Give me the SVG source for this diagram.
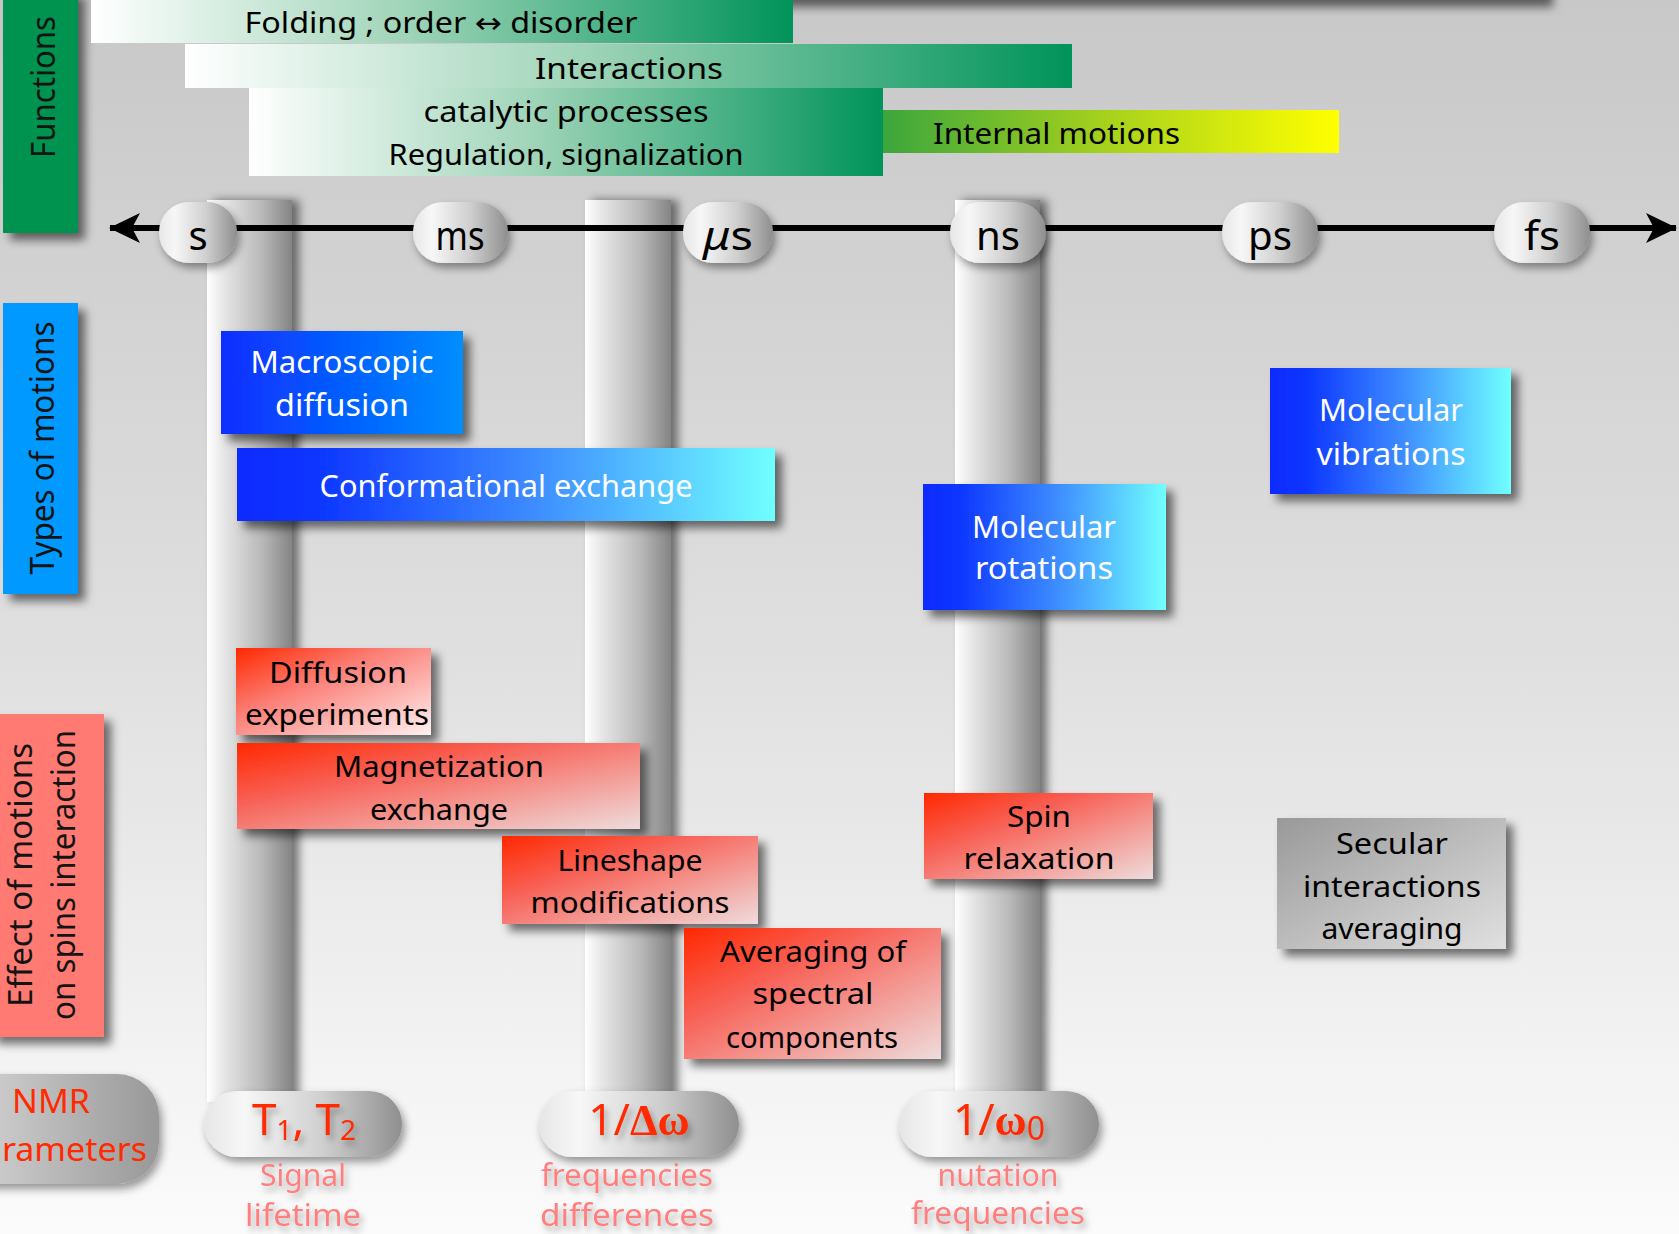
<svg xmlns="http://www.w3.org/2000/svg" width="1679" height="1234" viewBox="0 0 1679 1234">
<defs>
  <linearGradient id="bg" x1="0" y1="0" x2="0" y2="1">
    <stop offset="0" stop-color="#c8c8c8"/>
    <stop offset="0.5" stop-color="#dedede"/>
    <stop offset="1" stop-color="#fbfbfb"/>
  </linearGradient>
  <linearGradient id="green" x1="0" y1="0" x2="1" y2="0">
    <stop offset="0" stop-color="#ffffff"/>
    <stop offset="0.45" stop-color="#9fd4b8"/>
    <stop offset="1" stop-color="#00935a"/>
  </linearGradient>
  <linearGradient id="yellow" x1="0" y1="0" x2="1" y2="0">
    <stop offset="0" stop-color="#3ca63c"/>
    <stop offset="0.5" stop-color="#a8d21c"/>
    <stop offset="1" stop-color="#ffff00"/>
  </linearGradient>
  <linearGradient id="blue1" x1="0" y1="0" x2="1" y2="0">
    <stop offset="0" stop-color="#0a2eff"/>
    <stop offset="1" stop-color="#008eff"/>
  </linearGradient>
  <linearGradient id="blue2" x1="0" y1="0" x2="1" y2="0">
    <stop offset="0" stop-color="#0a2aff"/>
    <stop offset="0.15" stop-color="#0d36ff"/>
    <stop offset="0.55" stop-color="#3d8cff"/>
    <stop offset="1" stop-color="#70ffff"/>
  </linearGradient>
  <linearGradient id="red" x1="0" y1="0" x2="1" y2="1">
    <stop offset="0" stop-color="#ff2800"/>
    <stop offset="0.35" stop-color="#f86055"/>
    <stop offset="1" stop-color="#eedcdc"/>
  </linearGradient>
  <linearGradient id="redlight" x1="0" y1="0" x2="1" y2="1">
    <stop offset="0" stop-color="#ff2800"/>
    <stop offset="0.4" stop-color="#fb8078"/>
    <stop offset="1" stop-color="#fff0f0"/>
  </linearGradient>
  <linearGradient id="gray" x1="0" y1="0" x2="1" y2="1">
    <stop offset="0" stop-color="#999999"/>
    <stop offset="1" stop-color="#e0e0e0"/>
  </linearGradient>
  <linearGradient id="col" x1="0" y1="0" x2="1" y2="0">
    <stop offset="0" stop-color="#ffffff"/>
    <stop offset="0.2" stop-color="#e6e6e6"/>
    <stop offset="0.65" stop-color="#b8b8b8"/>
    <stop offset="1" stop-color="#848484"/>
  </linearGradient>
  <linearGradient id="pill" x1="0" y1="0" x2="1" y2="0">
    <stop offset="0" stop-color="#e6e6e6"/>
    <stop offset="0.2" stop-color="#f7f7f7"/>
    <stop offset="0.6" stop-color="#cfcfcf"/>
    <stop offset="1" stop-color="#8f8f8f"/>
  </linearGradient>
  <linearGradient id="nmr" x1="0" y1="0" x2="1" y2="0">
    <stop offset="0" stop-color="#dcdcdc"/>
    <stop offset="1" stop-color="#989898"/>
  </linearGradient>
  <filter id="sh" x="-20%" y="-20%" width="150%" height="160%">
    <feDropShadow dx="7" dy="7" stdDeviation="5" flood-color="#000" flood-opacity="0.55"/>
  </filter>
  <filter id="shcol" x="-20%" y="-5%" width="150%" height="110%">
    <feDropShadow dx="7" dy="0" stdDeviation="5" flood-color="#000" flood-opacity="0.5"/>
  </filter>
  <filter id="shpill" x="-20%" y="-30%" width="150%" height="170%">
    <feDropShadow dx="3" dy="5" stdDeviation="4" flood-color="#000" flood-opacity="0.4"/>
  </filter>
  <filter id="shtxt" x="-20%" y="-40%" width="150%" height="200%">
    <feDropShadow dx="3" dy="5" stdDeviation="3" flood-color="#000" flood-opacity="0.3"/>
  </filter>
  <marker id="arr" viewBox="0 0 32 32" refX="30" refY="16" markerWidth="32" markerHeight="32" markerUnits="userSpaceOnUse" orient="auto-start-reverse">
    <path d="M0,1 L31,16 L0,31 L8,16 Z" fill="#000"/>
  </marker>
</defs>
<style>
  text { font-family: "Noto Sans", "DejaVu Sans", sans-serif; }
  .f { font-size: 29px; fill: #000; text-anchor: middle; }
  .w { font-size: 31px; fill: #fff; text-anchor: middle; }
  .b { font-size: 29px; fill: #000; text-anchor: middle; }
  .side { font-size: 33px; fill: #141414; text-anchor: middle; }
  .ax { font-size: 40px; fill: #000; text-anchor: middle; }
  .rp { font-size: 44px; fill: #ff2a00; text-anchor: middle; }
  .sub { font-size: 30px; fill: #ff7f7f; text-anchor: middle; }
  .box { filter: url(#sh); }
  .pl { fill: url(#pill); filter: url(#shpill); }
</style>

<rect x="0" y="0" width="1679" height="1234" fill="url(#bg)"/>
<rect x="91" y="-40" width="1455" height="40" fill="#c8c8c8" filter="url(#sh)"/>

<!-- vertical time columns -->
<g id="columns">
  <rect x="207" y="200" width="85" height="902" fill="url(#col)" filter="url(#shcol)"/>
  <rect x="585" y="200" width="86" height="902" fill="url(#col)" filter="url(#shcol)"/>
  <rect x="955" y="200" width="85" height="902" fill="url(#col)" filter="url(#shcol)"/>
</g>

<!-- connectors: time axis -->
<g id="connectors">
  <line x1="110" y1="228" x2="1676" y2="228" stroke="#000" stroke-width="6" marker-start="url(#arr)" marker-end="url(#arr)"/>
</g>

<!-- axis labels -->
<g id="axis-s"><rect class="pl" x="159" y="202" width="78" height="61" rx="30"/><text class="ax" x="198" y="250">s</text></g>
<g id="axis-ms"><rect class="pl" x="413" y="202" width="95" height="61" rx="30"/><text class="ax" x="460" y="250" textLength="49" lengthAdjust="spacingAndGlyphs">ms</text></g>
<g id="axis-us"><rect class="pl" x="683" y="202" width="90" height="61" rx="30"/><text class="ax" x="728" y="250" textLength="50" lengthAdjust="spacingAndGlyphs"><tspan font-style="italic">μ</tspan>s</text></g>
<g id="axis-ns"><rect class="pl" x="950" y="202" width="96" height="61" rx="30"/><text class="ax" x="998" y="250" textLength="44" lengthAdjust="spacingAndGlyphs">ns</text></g>
<g id="axis-ps"><rect class="pl" x="1222" y="202" width="96" height="61" rx="30"/><text class="ax" x="1270" y="250" textLength="44" lengthAdjust="spacingAndGlyphs">ps</text></g>
<g id="axis-fs"><rect class="pl" x="1494" y="202" width="96" height="61" rx="30"/><text class="ax" x="1542" y="250" textLength="36" lengthAdjust="spacingAndGlyphs">fs</text></g>

<!-- side category labels -->
<g id="functions">
  <rect x="3" y="-10" width="75" height="243" fill="#00924f" class="box"/>
  <text class="side" transform="translate(55,87) rotate(-90)" textLength="142" lengthAdjust="spacingAndGlyphs">Functions</text>
</g>
<g id="types-of-motions">
  <rect x="3" y="303" width="75" height="291" fill="#0099ff" class="box"/>
  <text class="side" transform="translate(54,448) rotate(-90)" textLength="253" lengthAdjust="spacingAndGlyphs">Types of motions</text>
</g>
<g id="effect-of-motions">
  <rect x="-10" y="714" width="114" height="323" fill="#ff7a72" class="box"/>
  <text class="side" transform="translate(32,875) rotate(-90)" textLength="264" lengthAdjust="spacingAndGlyphs">Effect of motions</text>
  <text class="side" transform="translate(75,875) rotate(-90)" textLength="290" lengthAdjust="spacingAndGlyphs">on spins interaction</text>
</g>
<g id="nmr-parameters">
  <rect x="-60" y="1074" width="219" height="110" rx="42" fill="url(#nmr)" filter="url(#shpill)"/>
  <text x="51" y="1113" font-size="32" fill="#ff2a00" text-anchor="middle" textLength="78" lengthAdjust="spacingAndGlyphs">NMR</text>
  <text x="-38" y="1161" font-size="32" fill="#ff2a00" textLength="185" lengthAdjust="spacingAndGlyphs">parameters</text>
</g>

<!-- functions bars -->
<g id="folding">
  <rect x="91" y="-5" width="702" height="48" fill="url(#green)"/>
  <text class="f" x="441" y="33" textLength="393" lengthAdjust="spacingAndGlyphs">Folding ; order ↔ disorder</text>
</g>
<g id="interactions">
  <rect x="185" y="44" width="887" height="44" fill="url(#green)"/>
  <text class="f" x="629" y="79" textLength="188" lengthAdjust="spacingAndGlyphs">Interactions</text>
</g>
<g id="catalytic">
  <rect x="249" y="88" width="634" height="88" fill="url(#green)"/>
  <text class="f" x="566" y="122" textLength="285" lengthAdjust="spacingAndGlyphs">catalytic processes</text>
  <text class="f" x="566" y="165" textLength="355" lengthAdjust="spacingAndGlyphs">Regulation, signalization</text>
</g>
<g id="internal-motions">
  <rect x="883" y="110" width="456" height="43" fill="url(#yellow)"/>
  <text x="933" y="144" font-size="29" fill="#000" textLength="247" lengthAdjust="spacingAndGlyphs">Internal motions</text>
</g>

<!-- types of motions boxes -->
<g id="macroscopic-diffusion">
  <rect class="box" x="221" y="331" width="242" height="103" fill="url(#blue1)"/>
  <text class="w" x="342" y="373" textLength="183" lengthAdjust="spacingAndGlyphs">Macroscopic</text>
  <text class="w" x="342" y="416" textLength="134" lengthAdjust="spacingAndGlyphs">diffusion</text>
</g>
<g id="conformational-exchange">
  <rect class="box" x="237" y="448" width="538" height="73" fill="url(#blue2)"/>
  <text class="w" x="506" y="497" textLength="373" lengthAdjust="spacingAndGlyphs">Conformational exchange</text>
</g>
<g id="molecular-rotations">
  <rect class="box" x="923" y="484" width="243" height="126" fill="url(#blue2)"/>
  <text class="w" x="1044" y="538" textLength="144" lengthAdjust="spacingAndGlyphs">Molecular</text>
  <text class="w" x="1044" y="579" textLength="138" lengthAdjust="spacingAndGlyphs">rotations</text>
</g>
<g id="molecular-vibrations">
  <rect class="box" x="1270" y="368" width="241" height="126" fill="url(#blue2)"/>
  <text class="w" x="1391" y="421" textLength="144" lengthAdjust="spacingAndGlyphs">Molecular</text>
  <text class="w" x="1391" y="465" textLength="149" lengthAdjust="spacingAndGlyphs">vibrations</text>
</g>

<!-- effect boxes -->
<g id="diffusion-experiments">
  <rect class="box" x="236" y="648" width="195" height="87" fill="url(#redlight)"/>
  <text class="b" x="338" y="683" textLength="138" lengthAdjust="spacingAndGlyphs">Diffusion</text>
  <text class="b" x="337" y="725" textLength="184" lengthAdjust="spacingAndGlyphs">experiments</text>
</g>
<g id="magnetization-exchange">
  <rect class="box" x="237" y="743" width="403" height="86" fill="url(#red)"/>
  <text class="b" x="439" y="777" textLength="210" lengthAdjust="spacingAndGlyphs">Magnetization</text>
  <text class="b" x="439" y="820" textLength="138" lengthAdjust="spacingAndGlyphs">exchange</text>
</g>
<g id="lineshape-modifications">
  <rect class="box" x="502" y="836" width="256" height="88" fill="url(#red)"/>
  <text class="b" x="630" y="871" textLength="145" lengthAdjust="spacingAndGlyphs">Lineshape</text>
  <text class="b" x="630" y="913" textLength="199" lengthAdjust="spacingAndGlyphs">modifications</text>
</g>
<g id="averaging-spectral">
  <rect class="box" x="684" y="928" width="257" height="131" fill="url(#red)"/>
  <text class="b" x="813" y="962" textLength="186" lengthAdjust="spacingAndGlyphs">Averaging of</text>
  <text class="b" x="813" y="1004" textLength="121" lengthAdjust="spacingAndGlyphs">spectral</text>
  <text class="b" x="812" y="1048" textLength="172" lengthAdjust="spacingAndGlyphs">components</text>
</g>
<g id="spin-relaxation">
  <rect class="box" x="924" y="793" width="229" height="86" fill="url(#red)"/>
  <text class="b" x="1039" y="827" textLength="64" lengthAdjust="spacingAndGlyphs">Spin</text>
  <text class="b" x="1039" y="869" textLength="151" lengthAdjust="spacingAndGlyphs">relaxation</text>
</g>
<g id="secular-averaging">
  <rect class="box" x="1277" y="818" width="229" height="131" fill="url(#gray)"/>
  <text class="b" x="1392" y="854" textLength="112" lengthAdjust="spacingAndGlyphs">Secular</text>
  <text class="b" x="1392" y="897" textLength="178" lengthAdjust="spacingAndGlyphs">interactions</text>
  <text class="b" x="1392" y="939" textLength="141" lengthAdjust="spacingAndGlyphs">averaging</text>
</g>

<!-- NMR parameter pills -->
<g id="t1t2">
  <rect class="pl" x="204" y="1091" width="198" height="66" rx="33"/>
  <text class="rp" x="304" y="1135" filter="url(#shtxt)">T<tspan font-size="28" dy="5">1</tspan><tspan dy="-5">, T</tspan><tspan font-size="28" dy="5">2</tspan></text>
  <text class="sub" x="303" y="1186" filter="url(#shtxt)" textLength="86" lengthAdjust="spacingAndGlyphs">Signal</text>
  <text class="sub" x="303" y="1226" filter="url(#shtxt)" textLength="116" lengthAdjust="spacingAndGlyphs">lifetime</text>
</g>
<g id="delta-omega">
  <rect class="pl" x="539" y="1091" width="200" height="66" rx="33"/>
  <text class="rp" x="639" y="1135" filter="url(#shtxt)">1/<tspan font-family="Liberation Serif, serif" font-weight="bold">Δω</tspan></text>
  <text class="sub" x="627" y="1186" filter="url(#shtxt)" textLength="172" lengthAdjust="spacingAndGlyphs">frequencies</text>
  <text class="sub" x="627" y="1226" filter="url(#shtxt)" textLength="174" lengthAdjust="spacingAndGlyphs">differences</text>
</g>
<g id="omega0">
  <rect class="pl" x="899" y="1091" width="200" height="66" rx="33"/>
  <text class="rp" x="999" y="1135" filter="url(#shtxt)">1/<tspan font-family="Liberation Serif, serif" font-weight="bold">ω</tspan><tspan font-size="32" dy="5">0</tspan></text>
  <text class="sub" x="998" y="1186" filter="url(#shtxt)" textLength="121" lengthAdjust="spacingAndGlyphs">nutation</text>
  <text class="sub" x="998" y="1224" filter="url(#shtxt)" textLength="174" lengthAdjust="spacingAndGlyphs">frequencies</text>
</g>
</svg>
